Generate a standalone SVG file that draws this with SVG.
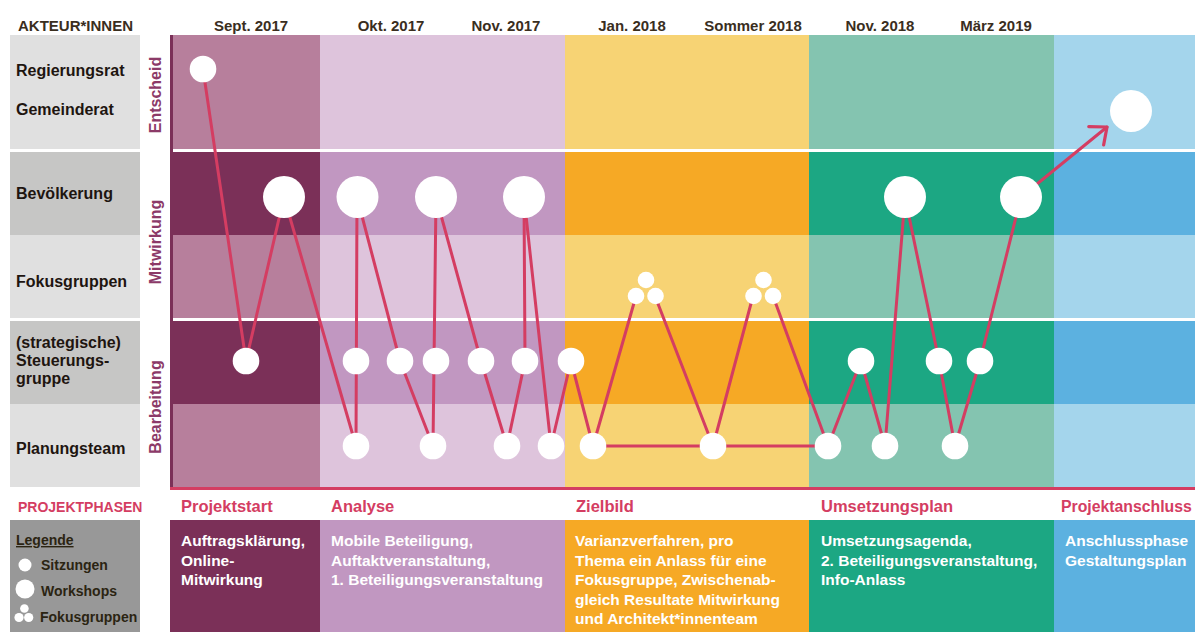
<svg xmlns="http://www.w3.org/2000/svg" width="1195" height="632" viewBox="0 0 1195 632">
<defs>
<style>
.hd{font-family:"Liberation Sans",Arial,sans-serif;font-weight:bold;font-size:15px;fill:#3a2e1e}
.lbl{font-family:"Liberation Sans",Arial,sans-serif;font-weight:bold;font-size:16px;fill:#1e1510}
.vl{font-family:"Liberation Sans",Arial,sans-serif;font-weight:bold;font-size:16px;fill:#8c3a68}
.ph{font-family:"Liberation Sans",Arial,sans-serif;font-weight:bold;font-size:16.5px;fill:#d43d62}
.ds{font-family:"Liberation Sans",Arial,sans-serif;font-weight:bold;font-size:15.5px;fill:#ffffff}
.lg{font-family:"Liberation Sans",Arial,sans-serif;font-weight:bold;font-size:14px;fill:#2b2412}
.con{stroke:#d43d62;stroke-width:3;fill:none;stroke-linecap:round}
.nd{fill:#ffffff}
.g1{fill:#e0e0e0}
.g2{fill:#c6c6c5}
</style>
<marker id="arr" markerUnits="userSpaceOnUse" markerWidth="30" markerHeight="30" viewBox="-16 -14 20 28" refX="0" refY="0" orient="auto">
<path d="M-13,-11 L0,0 L-13,11" fill="none" stroke="#d43d62" stroke-width="3" stroke-linecap="round" stroke-linejoin="round"/>
</marker>
</defs>
<rect x="0" y="0" width="1195" height="632" fill="#ffffff"/>

<g id="background">
<rect x="170" y="35" width="150" height="114" fill="#b77f9c"/>
<rect x="170" y="152" width="150" height="83" fill="#7b3058"/>
<rect x="170" y="235" width="150" height="83" fill="#b77f9c"/>
<rect x="170" y="321" width="150" height="83" fill="#7b3058"/>
<rect x="170" y="404" width="150" height="83" fill="#b77f9c"/>
<rect x="320" y="35" width="245" height="114" fill="#dec4dc"/>
<rect x="320" y="152" width="245" height="83" fill="#c197c1"/>
<rect x="320" y="235" width="245" height="83" fill="#dec4dc"/>
<rect x="320" y="321" width="245" height="83" fill="#c197c1"/>
<rect x="320" y="404" width="245" height="83" fill="#dec4dc"/>
<rect x="565" y="35" width="244" height="114" fill="#f7d374"/>
<rect x="565" y="152" width="244" height="83" fill="#f6a925"/>
<rect x="565" y="235" width="244" height="83" fill="#f7d374"/>
<rect x="565" y="321" width="244" height="83" fill="#f6a925"/>
<rect x="565" y="404" width="244" height="83" fill="#f7d374"/>
<rect x="809" y="35" width="245" height="114" fill="#84c4b0"/>
<rect x="809" y="152" width="245" height="83" fill="#1ca783"/>
<rect x="809" y="235" width="245" height="83" fill="#84c4b0"/>
<rect x="809" y="321" width="245" height="83" fill="#1ca783"/>
<rect x="809" y="404" width="245" height="83" fill="#84c4b0"/>
<rect x="1054" y="35" width="141" height="114" fill="#a4d5ec"/>
<rect x="1054" y="152" width="141" height="83" fill="#5cb1e0"/>
<rect x="1054" y="235" width="141" height="83" fill="#a4d5ec"/>
<rect x="1054" y="321" width="141" height="83" fill="#5cb1e0"/>
<rect x="1054" y="404" width="141" height="83" fill="#a4d5ec"/>
<rect x="170" y="35" width="3" height="452" fill="#7b3058"/>
<rect x="170" y="487" width="1025" height="3" fill="#d43d62"/>
</g>

<g id="actor-labels">
<text class="hd" x="18" y="31">AKTEUR*INNEN</text>
<rect class="g1" x="10" y="35" width="130" height="114"/>
<rect class="g2" x="10" y="152" width="130" height="83"/>
<rect class="g1" x="10" y="235" width="130" height="83"/>
<rect class="g2" x="10" y="321" width="130" height="83"/>
<rect class="g1" x="10" y="404" width="130" height="83"/>
<text class="lbl" x="16" y="76">Regierungsrat</text>
<text class="lbl" x="16" y="115">Gemeinderat</text>
<text class="lbl" x="16" y="199">Bevölkerung</text>
<text class="lbl" x="16" y="287">Fokusgruppen</text>
<text class="lbl" x="16" y="348">(strategische)</text>
<text class="lbl" x="16" y="366">Steuerungs-</text>
<text class="lbl" x="16" y="384">gruppe</text>
<text class="lbl" x="16" y="454">Planungsteam</text>
<text class="vl" transform="translate(160.5,95) rotate(-90)" text-anchor="middle">Entscheid</text>
<text class="vl" transform="translate(160.5,242) rotate(-90)" text-anchor="middle">Mitwirkung</text>
<text class="vl" transform="translate(160.5,407) rotate(-90)" text-anchor="middle">Bearbeitung</text>
</g>

<g id="dates">
<text class="hd" x="251" y="31" text-anchor="middle">Sept. 2017</text>
<text class="hd" x="391" y="31" text-anchor="middle">Okt. 2017</text>
<text class="hd" x="506" y="31" text-anchor="middle">Nov. 2017</text>
<text class="hd" x="632" y="31" text-anchor="middle">Jan. 2018</text>
<text class="hd" x="753" y="31" text-anchor="middle">Sommer 2018</text>
<text class="hd" x="880" y="31" text-anchor="middle">Nov. 2018</text>
<text class="hd" x="996" y="31" text-anchor="middle">März 2019</text>
</g>

<g id="connectors">
<line class="con" x1="203" y1="69" x2="246" y2="361"/>
<line class="con" x1="246" y1="361" x2="284" y2="197"/>
<line class="con" x1="284" y1="197" x2="356" y2="446"/>
<line class="con" x1="356" y1="446" x2="357" y2="197"/>
<line class="con" x1="357" y1="197" x2="400" y2="361"/>
<line class="con" x1="400" y1="361" x2="433" y2="446"/>
<line class="con" x1="433" y1="446" x2="436" y2="197"/>
<line class="con" x1="436" y1="197" x2="481" y2="361"/>
<line class="con" x1="481" y1="361" x2="507" y2="446"/>
<line class="con" x1="507" y1="446" x2="525" y2="361"/>
<line class="con" x1="525" y1="361" x2="524" y2="197"/>
<line class="con" x1="524" y1="197" x2="551" y2="446"/>
<line class="con" x1="551" y1="446" x2="571" y2="361"/>
<line class="con" x1="571" y1="361" x2="593" y2="446"/>
<line class="con" x1="593" y1="446" x2="636" y2="296"/>
<line class="con" x1="655" y1="296" x2="713" y2="446"/>
<line class="con" x1="593" y1="446" x2="828" y2="446"/>
<line class="con" x1="713" y1="446" x2="753" y2="296"/>
<line class="con" x1="773" y1="296" x2="828" y2="446"/>
<line class="con" x1="828" y1="446" x2="861" y2="361"/>
<line class="con" x1="861" y1="361" x2="885" y2="446"/>
<line class="con" x1="885" y1="446" x2="905" y2="197"/>
<line class="con" x1="905" y1="197" x2="939" y2="361"/>
<line class="con" x1="939" y1="361" x2="955" y2="446"/>
<line class="con" x1="955" y1="446" x2="980" y2="361"/>
<line class="con" x1="980" y1="361" x2="1021" y2="197"/>
<line class="con" x1="1021" y1="197" x2="1107" y2="127" marker-end="url(#arr)"/>
</g>

<g id="n-regierungsrat"><circle class="nd" cx="203" cy="69" r="13.3"/></g>
<g id="n-entscheid-final"><circle class="nd" cx="1131" cy="111" r="21"/></g>

<g id="n-s1"><circle class="nd" cx="246" cy="361" r="13.3"/></g>
<g id="n-b1"><circle class="nd" cx="284" cy="197" r="21"/></g>
<g id="n-p1"><circle class="nd" cx="356" cy="446" r="13.3"/></g>
<g id="n-s2"><circle class="nd" cx="356" cy="361" r="13.3"/></g>
<g id="n-b2"><circle class="nd" cx="357.5" cy="197" r="21"/></g>
<g id="n-s3"><circle class="nd" cx="400" cy="361" r="13.3"/></g>
<g id="n-p2"><circle class="nd" cx="433" cy="446" r="13.3"/></g>
<g id="n-s4"><circle class="nd" cx="436" cy="361" r="13.3"/></g>
<g id="n-b3"><circle class="nd" cx="436" cy="197" r="21"/></g>
<g id="n-s5"><circle class="nd" cx="481" cy="361" r="13.3"/></g>
<g id="n-p3"><circle class="nd" cx="507" cy="446" r="13.3"/></g>
<g id="n-s6"><circle class="nd" cx="525" cy="361" r="13.3"/></g>
<g id="n-b4"><circle class="nd" cx="524" cy="197" r="21"/></g>
<g id="n-p4"><circle class="nd" cx="551" cy="446" r="13.3"/></g>
<g id="n-s7"><circle class="nd" cx="571" cy="361" r="13.3"/></g>
<g id="n-p5"><circle class="nd" cx="593" cy="446" r="13.3"/></g>
<g id="n-f1">
<circle class="nd" cx="646" cy="280" r="8.3"/>
<circle class="nd" cx="636" cy="296" r="8.3"/>
<circle class="nd" cx="655.5" cy="296" r="8.3"/>
</g>
<g id="n-p6"><circle class="nd" cx="713" cy="446" r="13.3"/></g>
<g id="n-f2">
<circle class="nd" cx="763.5" cy="280" r="8.3"/>
<circle class="nd" cx="753.5" cy="296" r="8.3"/>
<circle class="nd" cx="773" cy="296" r="8.3"/>
</g>
<g id="n-p7"><circle class="nd" cx="828" cy="446" r="13.3"/></g>
<g id="n-s8"><circle class="nd" cx="861" cy="361" r="13.3"/></g>
<g id="n-p8"><circle class="nd" cx="885" cy="446" r="13.3"/></g>
<g id="n-b5"><circle class="nd" cx="905" cy="197" r="21"/></g>
<g id="n-s9"><circle class="nd" cx="939" cy="361" r="13.3"/></g>
<g id="n-p9"><circle class="nd" cx="955" cy="446" r="13.3"/></g>
<g id="n-s10"><circle class="nd" cx="980" cy="361" r="13.3"/></g>
<g id="n-b6"><circle class="nd" cx="1021" cy="197" r="21"/></g>

<g id="phases">
<text class="ph" x="18" y="512" style="font-size:14px">PROJEKTPHASEN</text>
<text class="ph" x="181" y="512">Projektstart</text>
<text class="ph" x="331" y="512">Analyse</text>
<text class="ph" x="576" y="512">Zielbild</text>
<text class="ph" x="821" y="512">Umsetzungsplan</text>
<text class="ph" x="1061" y="512" style="font-size:15.8px">Projektanschluss</text>
</g>

<g id="legend">
<rect x="10" y="520" width="130" height="112" fill="#989898"/>
<text class="lg" x="16" y="545" text-decoration="underline">Legende</text>
<circle class="nd" cx="25" cy="565" r="6.5"/>
<text class="lg" x="41" y="570">Sitzungen</text>
<circle class="nd" cx="25" cy="589" r="9.5"/>
<text class="lg" x="41" y="596">Workshops</text>
<circle class="nd" cx="24.4" cy="608.5" r="4.3"/>
<circle class="nd" cx="19" cy="617.5" r="4.6"/>
<circle class="nd" cx="28.7" cy="617.5" r="4.6"/>
<text class="lg" x="40" y="622">Fokusgruppen</text>
</g>

<g id="descriptions">
<rect x="170" y="520" width="150" height="112" fill="#7b3058"/>
<rect x="320" y="520" width="245" height="112" fill="#c197c1"/>
<rect x="565" y="520" width="244" height="112" fill="#f6a925"/>
<rect x="809" y="520" width="245" height="112" fill="#1ca783"/>
<rect x="1054" y="520" width="141" height="112" fill="#5cb1e0"/>
<text class="ds" x="181" y="546">Auftragsklärung,</text>
<text class="ds" x="181" y="565.5">Online-</text>
<text class="ds" x="181" y="585">Mitwirkung</text>
<text class="ds" x="331" y="546">Mobile Beteiligung,</text>
<text class="ds" x="331" y="565.5">Auftaktveranstaltung,</text>
<text class="ds" x="331" y="585">1. Beteiligungsveranstaltung</text>
<text class="ds" x="575" y="546">Varianzverfahren, pro</text>
<text class="ds" x="575" y="565.5">Thema ein Anlass für eine</text>
<text class="ds" x="575" y="585">Fokusgruppe, Zwischenab-</text>
<text class="ds" x="575" y="604.5">gleich Resultate Mitwirkung</text>
<text class="ds" x="575" y="624">und Architekt*innenteam</text>
<text class="ds" x="821" y="546">Umsetzungsagenda,</text>
<text class="ds" x="821" y="565.5">2. Beteiligungsveranstaltung,</text>
<text class="ds" x="821" y="585">Info-Anlass</text>
<text class="ds" x="1065" y="546">Anschlussphase</text>
<text class="ds" x="1065" y="565.5">Gestaltungsplan</text>
</g>
</svg>
